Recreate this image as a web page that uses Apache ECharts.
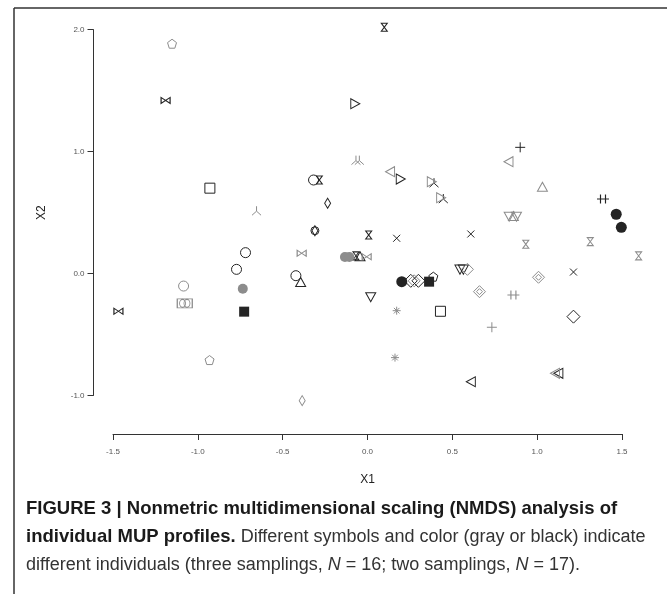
<!DOCTYPE html>
<html>
<head>
<meta charset="utf-8">
<script src="https://cdn.jsdelivr.net/npm/echarts@6/dist/echarts.min.js"></script>
<style>
html,body{margin:0;padding:0;background:#fff;}
#c{width:667px;height:594px;}
</style>
</head>
<body>
<div id="c"></div>
<script>
// ---- axis ticks ----
const xTicks = [-1.5, -1.0, -0.5, 0.0, 0.5, 1.0, 1.5];
const yTicks = [-1.0, 0.0, 1.0, 2.0];

// ---- black symbols (NMDS coordinates X1, X2) ----
const bOpenCircle   = [[-0.719, 0.171], [-0.772, 0.034], [-0.422, -0.018], [-0.318, 0.767]];
const bFilledCircle = [[0.202, -0.067], [1.466, 0.486], [1.496, 0.379]];
const bOpenSquare   = [[-0.929, 0.700], [0.430, -0.310]];
const bFilledSquare = [[-0.727, -0.313], [0.363, -0.067]];
const bTriUp        = [[-0.394, -0.070], [-0.044, 0.142]];
const bTriDown      = [[0.019, -0.195], [0.545, 0.032], [0.565, 0.032]];
const bTriRight     = [[-0.072, 1.393], [0.196, 0.775]];
const bTriLeft      = [[0.609, -0.888], [1.125, -0.819]];
const bHourglass    = [[0.099, 2.020], [-0.284, 0.767], [0.007, 0.316], [-0.068, 0.144]];
const bBowtie       = [[-1.190, 1.420], [-1.468, -0.310]];
const bCross        = [[0.172, 0.289], [0.609, 0.324], [1.214, 0.012]];
const bPlus         = [[0.900, 1.035]];
const bDoublePlus   = [[1.388, 0.611]];
const bThinDiamond  = [[-0.235, 0.576], [-0.310, 0.351]];
const bRingMark     = [[-0.310, 0.351]];
const bDiamond      = [[1.214, -0.354], [0.255, -0.060], [0.300, -0.060]];
const bTriStar      = [[0.392, 0.745], [0.447, 0.615]];
const bPentagon     = [[0.388, -0.026]];

// ---- gray symbols ----
const gPentagon     = [[-1.152, 1.885], [-0.931, -0.710]];
const gOpenCircle   = [[-1.084, -0.103]];
const gFilledCircle = [[-0.735, -0.125], [-0.133, 0.135], [-0.107, 0.135]];
const gTriLeft      = [[0.831, 0.917], [0.133, 0.835], [1.105, -0.819]];
const gTriRight     = [[0.379, 0.753], [0.434, 0.622]];
const gTriUp        = [[1.031, 0.712], [0.860, 0.472]];
const gTriDown      = [[0.835, 0.466], [0.878, 0.466]];
const gHourglass    = [[0.933, 0.240], [1.313, 0.261], [1.598, 0.144]];
const gBowtie       = [[-0.388, 0.166], [-0.005, 0.138]];
const gTriStar      = [[-0.654, 0.515], [-0.068, 0.930], [-0.048, 0.930]];
const gThinDiamond  = [[-0.385, -1.043]];
const gDiamond      = [[0.589, 0.034], [0.275, -0.060], [0.660, -0.149], [1.008, -0.031]];
const gInnerDiamond = [[0.660, -0.149], [1.008, -0.031]];
const gDoublePlus   = [[0.860, -0.176]];
const gPlus         = [[0.733, -0.441]];
const gStar         = [[0.172, -0.305], [0.162, -0.690]];
const gBox          = [[-1.077, -0.245]];
const gBoxOvals     = [[-1.090, -0.245], [-1.064, -0.245]];

// ---- caption ----
const captionLine1 = 'FIGURE 3 | Nonmetric multidimensional scaling (NMDS) analysis of';
const captionLine2Bold = 'individual MUP profiles.';
const captionLine2 = ' Different symbols and color (gray or black) indicate';
const captionLine3a = 'different individuals (three samplings, ';
const captionLine3b = ' = 16; two samplings, ';
const captionLine3c = ' = 17).';

const BLACK = '#242424';
const GRAY = '#8c8c8c';

const P = {
  triUp: 'path://M5,0L10,9L0,9Z',
  triDown: 'path://M0,0L10,0L5,9Z',
  triLeft: 'path://M0,5L9,0L9,10Z',
  triRight: 'path://M0,0L9,5L0,10Z',
  hourglass: 'path://M0,0L10,0L0,12L10,12Z',
  bowtie: 'path://M0,0L0,10L14,0L14,10Z',
  cross: 'path://M0,0L10,10M10,0L0,10',
  plus: 'path://M5,0L5,10M0,5L10,5',
  dplus: 'path://M3.5,0L3.5,10M8.5,0L8.5,10M0,5L12,5',
  tristar: 'path://M5,0L5,5.5M5,5.5L0,10M5,5.5L10,10',
  star: 'path://M5,0L5,10M0,5L10,5M1.5,1.5L8.5,8.5M8.5,1.5L1.5,8.5',
  pentagon: 'path://M5,0L10,3.8L8.1,10L1.9,10L0,3.8Z'
};

function s(data, symbol, size, col, filled, lw) {
  return {
    type: 'scatter', data: data, symbol: symbol, symbolSize: size,
    clip: false, silent: true, animation: false,
    itemStyle: filled
      ? { color: col, borderColor: col, borderWidth: 0, opacity: 1 }
      : { color: 'none', borderColor: col, borderWidth: lw || 1, opacity: 1 }
  };
}

const series = [
  s(bOpenCircle, 'circle', 10, BLACK, false),
  s(bFilledCircle, 'circle', 11, BLACK, true),
  s(bOpenSquare, 'rect', 10, BLACK, false),
  s(bFilledSquare, 'rect', 10, BLACK, true),
  s(bTriUp, P.triUp, [10, 9], BLACK, false),
  s(bTriDown, P.triDown, [10, 9], BLACK, false),
  s(bTriRight, P.triRight, [9, 10], BLACK, false),
  s(bTriLeft, P.triLeft, [9, 10], BLACK, false),
  s(bHourglass, P.hourglass, [6, 8], BLACK, false),
  s(bBowtie, P.bowtie, [9, 6], BLACK, false),
  s(bCross, P.cross, 7, BLACK, false),
  s(bPlus, P.plus, 10, BLACK, false),
  s(bDoublePlus, P.dplus, [12, 9], BLACK, false),
  s(bThinDiamond, 'diamond', [6, 10], BLACK, false),
  s(bRingMark, 'circle', [8, 8], BLACK, false),
  s(bDiamond, 'diamond', 13, BLACK, false),
  s(bTriStar, P.tristar, 9, BLACK, false),
  s(bPentagon, P.pentagon, 9, BLACK, false),

  s(gPentagon, P.pentagon, 9, GRAY, false),
  s(gOpenCircle, 'circle', 10, GRAY, false),
  s(gFilledCircle, 'circle', 10, GRAY, true),
  s(gTriLeft, P.triLeft, [9, 10], GRAY, false),
  s(gTriRight, P.triRight, [9, 10], GRAY, false),
  s(gTriUp, P.triUp, [10, 9], GRAY, false),
  s(gTriDown, P.triDown, [10, 9], GRAY, false),
  s(gHourglass, P.hourglass, [6, 8], GRAY, false),
  s(gBowtie, P.bowtie, [9, 6], GRAY, false),
  s(gTriStar, P.tristar, 9, GRAY, false),
  s(gThinDiamond, 'diamond', [6, 10], GRAY, false),
  s(gDiamond, 'diamond', 12, GRAY, false),
  s(gInnerDiamond, 'diamond', 6, GRAY, false),
  s(gDoublePlus, P.dplus, [12, 9], GRAY, false),
  s(gPlus, P.plus, 10, GRAY, false),
  s(gStar, P.star, 8, GRAY, false),
  s(gBox, 'rect', [15, 9], GRAY, false),
  s(gBoxOvals, 'circle', [6, 8], GRAY, false)
];

const tickFont = { fontFamily: 'Liberation Sans', fontSize: 8, color: '#555' };
const CAP = 18;
const CAPB = 18.5;

const chart = echarts.init(document.getElementById('c'), null, { renderer: 'canvas' });
chart.setOption({
  animation: false,
  backgroundColor: '#fff',
  grid: { left: 113, right: 45, top: 29.7, bottom: 198.6, containLabel: false },
  xAxis: {
    type: 'value', min: xTicks[0], max: xTicks[xTicks.length - 1], interval: 0.5,
    offset: 38.6,
    name: 'X1', nameLocation: 'middle', nameGap: 40,
    nameTextStyle: { fontFamily: 'Liberation Sans', fontSize: 12, color: '#222' },
    axisLine: { show: true, onZero: false, lineStyle: { color: '#333', width: 1 } },
    axisTick: { show: true, inside: false, length: 6, lineStyle: { color: '#333' } },
    axisLabel: { margin: 14, formatter: v => v.toFixed(1), ...tickFont },
    splitLine: { show: false }
  },
  yAxis: {
    type: 'value', min: yTicks[0], max: yTicks[yTicks.length - 1], interval: 1,
    offset: 19.5,
    name: 'X2', nameLocation: 'middle', nameGap: 46, nameRotate: 90,
    nameTextStyle: { fontFamily: 'Liberation Sans', fontSize: 12, color: '#222' },
    axisLine: { show: true, onZero: false, lineStyle: { color: '#333', width: 1 } },
    axisTick: { show: true, inside: false, length: 6, lineStyle: { color: '#333' } },
    axisLabel: { margin: 9, formatter: v => v.toFixed(1), ...tickFont },
    splitLine: { show: false }
  },
  graphic: [
    { type: 'line', shape: { x1: 14, y1: 8, x2: 667, y2: 8 }, style: { stroke: '#333', lineWidth: 1.5 } },
    { type: 'line', shape: { x1: 14, y1: 8, x2: 14, y2: 594 }, style: { stroke: '#333', lineWidth: 1.5 } },
    { type: 'text', x: 26, y: 509,
      style: { text: '{b|' + captionLine1 + '}', verticalAlign: 'middle',
        rich: { b: { fontFamily: 'Liberation Sans', fontWeight: 'bold', fontSize: CAPB, fill: '#1a1a1a' } } } },
    { type: 'text', x: 26, y: 537,
      style: { text: '{b|' + captionLine2Bold + '}{r|' + captionLine2 + '}', verticalAlign: 'middle',
        rich: { b: { fontFamily: 'Liberation Sans', fontWeight: 'bold', fontSize: CAPB, fill: '#1a1a1a' },
                r: { fontFamily: 'Liberation Sans', fontSize: CAP, fill: '#333' } } } },
    { type: 'text', x: 26, y: 565,
      style: { text: '{r|' + captionLine3a + '}{i|N}{r|' + captionLine3b + '}{i|N}{r|' + captionLine3c + '}', verticalAlign: 'middle',
        rich: { r: { fontFamily: 'Liberation Sans', fontSize: CAP, fill: '#333' },
                i: { fontFamily: 'Liberation Sans', fontStyle: 'italic', fontSize: CAP, fill: '#333' } } } }
  ],
  series: series
});
</script>
</body>
</html>
